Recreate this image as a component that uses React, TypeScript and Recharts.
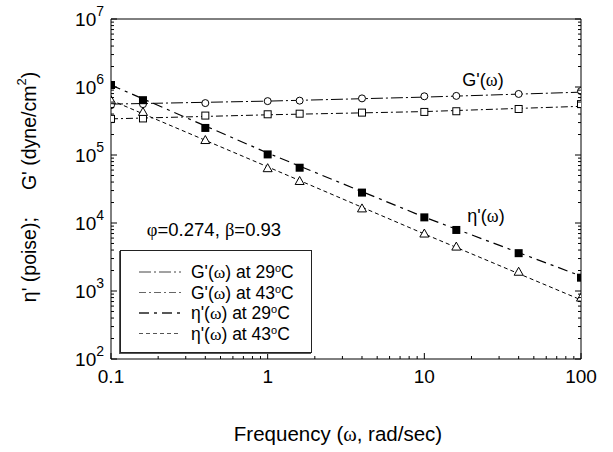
import React from 'react'
import { ComposedChart, Line, Scatter, XAxis, YAxis, Legend, Label } from 'recharts'

// measured frequencies (rad/sec)
const freq = [0.1, 0.16, 0.4, 1, 1.6, 4, 10, 16, 40, 100]
const gPrime29 = [5.4e5, 5.6e5, 5.8e5, 6.2e5, 6.3e5, 6.8e5, 7.3e5, 7.4e5, 7.9e5, 8.7e5]
const gPrime43 = [3.4e5, 3.45e5, 3.8e5, 3.97e5, 4.05e5, 4.2e5, 4.3e5, 4.4e5, 4.75e5, 5.6e5]
const eta29 = [1.07e6, 6.4e5, 2.5e5, 1.02e5, 6.5e4, 2.8e4, 1.21e4, 7.9e3, 3.6e3, 1.57e3]
const eta43 = [6.4e5, 4.3e5, 1.66e5, 6.4e4, 4.15e4, 1.64e4, 7.0e3, 4.5e3, 1.92e3, 800]

// model fit curves
const fitFreq = [0.1, 1, 10, 100]
const gFit29 = [5.6e5, 6.2e5, 7.1e5, 8.4e5]
const gFit43 = [3.4e5, 3.9e5, 4.35e5, 5.2e5]
const etaFit29 = [1.07e6, 1.07e5, 1.22e4, 1.66e3]
const etaFit43 = [6.4e5, 6.7e4, 6.9e3, 740]

const xMajor = [0.1, 1, 10, 100]
const yMajor = [1e2, 1e3, 1e4, 1e5, 1e6, 1e7]
const mult = [2, 3, 4, 5, 6, 7, 8, 9]
const xTicks = [...xMajor, ...xMajor.slice(0, -1).flatMap((d) => mult.map((m) => d * m))]
const yTicks = [...yMajor, ...yMajor.slice(0, -1).flatMap((d) => mult.map((m) => d * m))]

const toPts = (xs: number[], ys: number[]) => xs.map((x, i) => ({ x, y: ys[i] }))

const SANS = '"Liberation Sans", Arial, sans-serif'
const SERIF = '"Liberation Serif", "Times New Roman", serif'

const series = [
  { name: "G'(ω)", temp: '29', dash: '12 3 2 3', width: 1, legendColor: '#444' },
  { name: "G'(ω)", temp: '43', dash: '7 3 2 3', width: 1, legendColor: '#666' },
  { name: "η'(ω)", temp: '29', dash: '10 5 3 5', width: 1.4, legendColor: '#222' },
  { name: "η'(ω)", temp: '43', dash: '4 3', width: 1, legendColor: '#555' }
]

const BottomTick = (props: any) => {
  const { x, y, payload } = props
  const major = xMajor.includes(payload.value)
  return (
    <g>
      <line x1={x} x2={x} y1={y} y2={y - (major ? 6 : 3)} stroke="#000" />
      {major && (
        <text x={x} y={y + 24} textAnchor="middle" fontSize={19} fontFamily={SANS} fill="#000">
          {String(payload.value)}
        </text>
      )}
    </g>
  )
}

const TopTick = (props: any) => {
  const { x, y, payload } = props
  const major = xMajor.includes(payload.value)
  return <line x1={x} x2={x} y1={y} y2={y + (major ? 6 : 3)} stroke="#000" />
}

const LeftTick = (props: any) => {
  const { x, y, payload } = props
  const major = yMajor.includes(payload.value)
  const exp = Math.round(Math.log10(payload.value))
  return (
    <g>
      <line x1={x} x2={x + (major ? 6 : 3)} y1={y} y2={y} stroke="#000" />
      {major && (
        <text x={x - 7} y={y + 7} textAnchor="end" fontSize={19} fontFamily={SANS} fill="#000">
          10
          <tspan dy={-10} fontSize={14}>{exp}</tspan>
        </text>
      )}
    </g>
  )
}

const RightTick = (props: any) => {
  const { x, y, payload } = props
  const major = yMajor.includes(payload.value)
  return <line x1={x} x2={x - (major ? 6 : 3)} y1={y} y2={y} stroke="#000" />
}

const LegendBox = () => (
  <svg width={192} height={103} style={{ display: 'block' }}>
    {series.map((s, i) => {
      const cy = 21 + i * 20.5
      return (
        <g key={i}>
          <line x1={18} x2={60} y1={cy} y2={cy} stroke={s.legendColor} strokeWidth={s.width} strokeDasharray={s.dash} />
          <text x={70} y={cy + 6} fontSize={17.5} fontFamily={SANS} fill="#000">
            {s.name.slice(0, 3)}
            <tspan fontFamily={SERIF}>ω</tspan>
            {') at ' + s.temp}
            <tspan dy={-6} fontSize={11}>o</tspan>
            <tspan dy={6}>C</tspan>
          </text>
        </g>
      )
    })}
  </svg>
)

const Circle = (p: any) => <circle cx={p.cx} cy={p.cy} r={3.5} fill="#fff" stroke="#000" />
const OpenSquare = (p: any) => <rect x={p.cx - 3.5} y={p.cy - 3.5} width={7} height={7} fill="#fff" stroke="#000" />
const FilledSquare = (p: any) => <rect x={p.cx - 4} y={p.cy - 4} width={8} height={8} fill="#000" />
const Triangle = (p: any) => (
  <path d={`M${p.cx},${p.cy - 4.5} L${p.cx + 4.5},${p.cy + 3.5} L${p.cx - 4.5},${p.cy + 3.5} Z`} fill="#fff" stroke="#000" />
)

const axisCommon = {
  type: 'number' as const,
  scale: 'log' as const,
  allowDataOverflow: true,
  interval: 0 as const,
  tickSize: 0,
  tickMargin: 0,
  tickLine: false,
  axisLine: { stroke: '#000', strokeWidth: 1 }
}

export default function App() {
  return (
    <div style={{ position: 'absolute', left: 0, top: 0, width: 613, height: 452, background: '#fff' }}>
      <ComposedChart width={613} height={452} margin={{ top: 9, right: 22, bottom: 53, left: 51 }}>
        <XAxis {...axisCommon} dataKey="x" domain={[0.1, 100]} ticks={xTicks} height={40} tick={<BottomTick />}>
          <Label
            content={() => (
              <text x={338} y={441} textAnchor="middle" fontSize={20.5} fontFamily={SANS} fill="#000">
                Frequency (<tspan fontFamily={SERIF}>ω</tspan>, rad/sec)
              </text>
            )}
          />
        </XAxis>
        <XAxis {...axisCommon} xAxisId="top" orientation="top" domain={[0.1, 100]} ticks={xTicks} height={10} tick={<TopTick />} />
        <YAxis {...axisCommon} domain={[100, 1e7]} ticks={yTicks} width={60} tick={<LeftTick />}>
          <Label
            content={() => (
              <text
                x={31}
                y={187}
                transform="rotate(-90 31 187)"
                textAnchor="middle"
                dominantBaseline="middle"
                fontSize={19.5}
                fontFamily={SANS}
                fill="#000"
              >
                η' (poise);{'\u00a0\u00a0\u00a0\u00a0\u00a0'}G' (dyne/cm<tspan dy={-8} fontSize={13}>2</tspan>
                <tspan dy={8}>)</tspan>
              </text>
            )}
          />
        </YAxis>
        <YAxis {...axisCommon} yAxisId="right" orientation="right" domain={[100, 1e7]} ticks={yTicks} width={10} tick={<RightTick />} />

        <Line data={toPts(fitFreq, gFit29)} dataKey="y" type="linear" stroke="#000" strokeWidth={1} strokeDasharray={series[0].dash} dot={false} isAnimationActive={false} />
        <Line data={toPts(fitFreq, gFit43)} dataKey="y" type="linear" stroke="#000" strokeWidth={1} strokeDasharray={series[1].dash} dot={false} isAnimationActive={false} />
        <Line data={toPts(fitFreq, etaFit29)} dataKey="y" type="linear" stroke="#000" strokeWidth={1.2} strokeDasharray={series[2].dash} dot={false} isAnimationActive={false} />
        <Line data={toPts(fitFreq, etaFit43)} dataKey="y" type="linear" stroke="#000" strokeWidth={1} strokeDasharray={series[3].dash} dot={false} isAnimationActive={false} />

        <Scatter data={toPts(freq, gPrime29)} dataKey="y" shape={<Circle />} isAnimationActive={false} />
        <Scatter data={toPts(freq, gPrime43)} dataKey="y" shape={<OpenSquare />} isAnimationActive={false} />
        <Scatter data={toPts(freq, eta43)} dataKey="y" shape={<Triangle />} isAnimationActive={false} />
        <Scatter data={toPts(freq, eta29)} dataKey="y" shape={<FilledSquare />} isAnimationActive={false} />

        <Legend
          layout="vertical"
          align="center"
          verticalAlign="middle"
          content={<LegendBox />}
          wrapperStyle={{
            left: 120,
            top: 250,
            width: 192,
            height: 103,
            border: '1px solid #222',
            boxShadow: '-1px 1px 0 #555',
            background: '#fff',
            boxSizing: 'border-box'
          }}
        />

        <text x={483} y={86} textAnchor="middle" fontSize={18} fontFamily={SANS} fill="#000">
          G'(<tspan fontFamily={SERIF}>ω</tspan>)
        </text>
        <text x={486} y={222} textAnchor="middle" fontSize={18} fontFamily={SANS} fill="#000">
          η'(<tspan fontFamily={SERIF}>ω</tspan>)
        </text>
        <text x={214} y={236} textAnchor="middle" fontSize={18.5} fontFamily={SANS} fill="#000">
          <tspan fontFamily={SERIF}>φ</tspan>=0.274, <tspan fontFamily={SERIF}>β</tspan>=0.93
        </text>
      </ComposedChart>
    </div>
  )
}
